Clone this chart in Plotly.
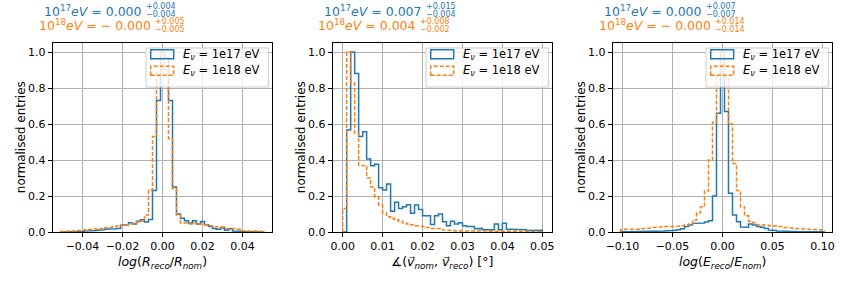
import numpy as np
import plotly.graph_objects as go

BLUE = "#1f77b4"
ORANGE = "#ff7f0e"

# ---------------- data ----------------
# panel 1: log(R_reco/R_nom), bin centres -0.05 .. 0.05 (step 0.002)
r_centres = np.linspace(-0.05, 0.05, 51)
r_1e17 = [0, 0, 0, 0.001, 0.002, 0.003, 0.005, 0.005, 0.008, 0.01, 0.012, 0.015, 0.015,
          0.018, 0.02, 0.038, 0.04, 0.052, 0.045, 0.06, 0.068, 0.055, 0.07, 0.23, 0.73,
          1.0, 0.97, 0.73, 0.25, 0.1, 0.076, 0.063, 0.05, 0.062, 0.045, 0.058, 0.04, 0.03,
          0.02, 0.015, 0.022, 0.01, 0.018, 0.005, 0.008, 0.004, 0.003, 0.002, 0.001, 0, 0]
r_1e18 = [0.003, 0.004, 0.005, 0.006, 0.008, 0.01, 0.012, 0.014, 0.016, 0.018, 0.02, 0.023,
          0.026, 0.03, 0.033, 0.036, 0.04, 0.045, 0.05, 0.055, 0.06, 0.094, 0.233, 0.53,
          0.88, 1.0, 0.9, 0.52, 0.24, 0.095, 0.05, 0.05, 0.045, 0.05, 0.045, 0.042, 0.04,
          0.035, 0.03, 0.03, 0.028, 0.02, 0.02, 0.018, 0.015, 0.007, 0.006, 0.005, 0.005,
          0.004, 0.004]

# panel 2: angle between directions, bin edges 0 .. 0.05 (step 0.001)
a_edges = np.linspace(0.0, 0.05, 51)
a_1e17 = [0, 0.567, 1.0, 0.88, 0.53, 0.557, 0.405, 0.368, 0.376, 0.246, 0.233, 0.267,
          0.115, 0.165, 0.13, 0.14, 0.152, 0.104, 0.15, 0.125, 0.09, 0.09, 0.042, 0.09,
          0.1, 0.057, 0.035, 0.06, 0.045, 0.052, 0.035, 0.03, 0.03, 0.018, 0.02, 0.012,
          0.012, 0.012, 0.044, 0.012, 0.048, 0.015, 0.012, 0.015, 0.012, 0.012, 0.008,
          0.012, 0.012, 0.01]
a_1e18 = [0.13, 1.0, 0.83, 0.55, 0.37, 0.37, 0.30, 0.25, 0.196, 0.15, 0.105, 0.085, 0.075,
          0.068, 0.06, 0.05, 0.045, 0.04, 0.035, 0.032, 0.03, 0.025, 0.02, 0.018, 0.02,
          0.012, 0.01, 0.008, 0.006, 0.006, 0.005, 0.005, 0.006, 0.004, 0.005, 0.004,
          0.004, 0.005, 0.004, 0.004, 0.003, 0.004, 0.004, 0.003, 0.004, 0.003, 0.003,
          0.003, 0.002, 0.003]

# panel 3: log(E_reco/E_nom), bin centres -0.1 .. 0.1 (step 0.004)
e_centres = np.linspace(-0.1, 0.1, 51)
e_1e17 = [0.001, 0.001, 0.001, 0.001, 0.001, 0.001, 0.002, 0.002, 0.003, 0.004, 0.005,
          0.006, 0.008, 0.01, 0.012, 0.018, 0.03, 0.039, 0.048, 0.052, 0.05, 0.055, 0.063,
          0.2, 0.66, 1.0, 0.67, 0.215, 0.094, 0.057, 0.028, 0.026, 0.045, 0.039, 0.031,
          0.026, 0.02, 0.011, 0.008, 0.006, 0.005, 0.004, 0.003, 0.002, 0.002, 0.001,
          0.001, 0.001, 0.001, 0.001, 0.001]
e_1e18 = [0.012, 0.015, 0.015, 0.013, 0.015, 0.018, 0.02, 0.022, 0.025, 0.028, 0.028, 0.03,
          0.03, 0.03, 0.032, 0.035, 0.04, 0.045, 0.065, 0.105, 0.14, 0.228, 0.4, 0.61,
          0.87, 1.0, 0.86, 0.6, 0.38, 0.23, 0.14, 0.09, 0.06, 0.052, 0.042, 0.04, 0.038,
          0.035, 0.033, 0.03, 0.03, 0.025, 0.022, 0.02, 0.02, 0.018, 0.016, 0.015, 0.014,
          0.012, 0.012]

x_ticks_r = [-0.04, -0.02, 0.0, 0.02, 0.04]
x_ticks_a = [0.0, 0.01, 0.02, 0.03, 0.04, 0.05]
x_ticks_e = [-0.10, -0.05, 0.0, 0.05, 0.10]
y_ticks = [0.0, 0.2, 0.4, 0.6, 0.8, 1.0]

legend_labels = ["<i>E</i><sub><i>ν</i></sub> = 1e17 eV", "<i>E</i><sub><i>ν</i></sub> = 1e18 eV"]
stats_1e17 = [("0.000", "+0.004", "−0.004"), ("0.007", "+0.015", "−0.004"), ("0.000", "+0.007", "−0.007")]
stats_1e18 = [("− 0.000", "+0.005", "−0.005"), ("0.004", "+0.008", "−0.002"), ("− 0.000", "+0.014", "−0.014")]
x_titles = [
    "<i>log</i>(<i>R</i><sub><i>reco</i></sub>/<i>R</i><sub><i>nom</i></sub>)",
    "∡(<i>v⃗</i><sub><i>nom</i></sub>, <i>v⃗</i><sub><i>reco</i></sub>) [°]",
    "<i>log</i>(<i>E</i><sub><i>reco</i></sub>/<i>E</i><sub><i>nom</i></sub>)",
]


# ---------------- helpers ----------------
def edges_from_centres(c):
    c = np.asarray(c, dtype=float)
    w = c[1] - c[0]
    return np.concatenate([c - w / 2, [c[-1] + w / 2]])


def step_xy(edges, values):
    xs, ys = [edges[0]], [0.0]
    for i, v in enumerate(values):
        xs += [edges[i], edges[i + 1]]
        ys += [v, v]
    xs.append(edges[-1])
    ys.append(0.0)
    return xs, ys


W, H = 847, 283
SPINE_L = [52.7, 332.7, 612.7]
AX_W = 219.6
AX_TOP, AX_BOT = 43.0, 232.0


def px(x):
    return x / W


def py(y):
    return 1 - y / H


panels = [
    (edges_from_centres(r_centres), r_1e17, r_1e18, [-0.0549, 0.0549], x_ticks_r, ".2f"),
    (a_edges, a_1e17, a_1e18, [-0.0025, 0.0525], x_ticks_a, ".2f"),
    (edges_from_centres(e_centres), e_1e17, e_1e18, [-0.1098, 0.1098], x_ticks_e, ".2f"),
]

fig = go.Figure()
shapes = []
annotations = []
FONT = "DejaVu Sans"

for p, (edges, v17, v18, xr, xt, fmt) in enumerate(panels):
    sfx = "" if p == 0 else str(p + 1)
    xa, ya = "x" + sfx, "y" + sfx
    x0 = SPINE_L[p]
    for vals, col, dash in [(v17, BLUE, "solid"), (v18, ORANGE, "4px,2px")]:
        xs, ys = step_xy(edges, vals)
        fig.add_trace(go.Scatter(x=xs, y=ys, mode="lines", xaxis=xa, yaxis=ya,
                                 line=dict(color=col, width=1.5, dash=dash),
                                 showlegend=False, hoverinfo="skip"))
    axis_common = dict(showline=True, mirror=True, linecolor="black", linewidth=1,
                       ticks="outside", ticklen=4, tickwidth=1, tickcolor="black",
                       showgrid=True, gridcolor="#b0b0b0", gridwidth=0.8, zeroline=False,
                       automargin=False,
                       tickfont=dict(family=FONT, size=11, color="black"))
    fig.layout["xaxis" + sfx] = dict(domain=[px(x0), px(x0 + AX_W)], anchor=ya, range=xr,
                                     tickvals=xt, tickformat=fmt, **axis_common)
    fig.layout["yaxis" + sfx] = dict(domain=[py(AX_BOT), py(AX_TOP)], anchor=xa,
                                     range=[0, 1.05], tickvals=y_ticks, tickformat=".1f",
                                     **axis_common)
    # axis titles
    annotations.append(dict(xref="paper", yref="paper", x=px(x0 + AX_W / 2), y=py(262),
                            text=x_titles[p], showarrow=False, xanchor="center", yanchor="middle",
                            borderpad=0, font=dict(family=FONT, size=12.5, color="black")))
    annotations.append(dict(xref="paper", yref="paper", x=px(x0 - 32), y=py((AX_TOP + AX_BOT) / 2),
                            text="normalised entries", showarrow=False, textangle=-90,
                            xanchor="center", yanchor="middle", borderpad=0,
                            font=dict(family=FONT, size=12, color="black")))
    # stats texts above the panel
    for (stat, col, yc, sup_off) in [(stats_1e17[p], BLUE, 10.5, 91.3),
                                     (stats_1e18[p], ORANGE, 25.5, 100.0 if "−" in stats_1e18[p][0] else 85.6)]:
        e_txt = "10<sup>17</sup><i>eV</i>" if col == BLUE else "10<sup>18</sup><i>eV</i>"
        annotations.append(dict(xref="paper", yref="paper", x=px(x0 + sup_off - 1), y=py(yc),
                                text=f"{e_txt} = {stat[0]}", showarrow=False,
                                xanchor="right", yanchor="middle", borderpad=0,
                                font=dict(family=FONT, size=12.5, color=col)))
        annotations.append(dict(xref="paper", yref="paper", x=px(x0 + sup_off + 1), y=py(yc - 4),
                                text=stat[1], showarrow=False, xanchor="left", yanchor="middle",
                                borderpad=0, font=dict(family=FONT, size=8, color=col)))
        annotations.append(dict(xref="paper", yref="paper", x=px(x0 + sup_off + 1), y=py(yc + 3.5),
                                text=stat[2], showarrow=False, xanchor="left", yanchor="middle",
                                borderpad=0, font=dict(family=FONT, size=8, color=col)))
    # legend box (manual)
    lx0, lx1, ly0, ly1 = x0 + 93.3, x0 + AX_W - 4, AX_TOP + 5, AX_TOP + 44
    shapes.append(dict(type="rect", xref="paper", yref="paper", x0=px(lx0), x1=px(lx1),
                       y0=py(ly1), y1=py(ly0), line=dict(color="#cccccc", width=1),
                       fillcolor="rgba(255,255,255,0.8)", layer="above"))
    for j, (col, dash) in enumerate([(BLUE, "solid"), (ORANGE, "4px,2px")]):
        hy = AX_TOP + 11.3 + j * 16.5
        shapes.append(dict(type="rect", xref="paper", yref="paper", x0=px(x0 + 98), x1=px(x0 + 121),
                           y0=py(hy + 4.5), y1=py(hy - 4.5),
                           line=dict(color=col, width=1.5, dash=dash),
                           fillcolor="rgba(0,0,0,0)", layer="above"))
        annotations.append(dict(xref="paper", yref="paper", x=px(x0 + 129), y=py(hy),
                                text=legend_labels[j], showarrow=False, xanchor="left",
                                yanchor="middle", borderpad=0,
                                font=dict(family=FONT, size=11.5, color="black")))

fig.update_layout(width=W, height=H, autosize=False,
                  margin=dict(l=0, r=0, t=0, b=0, pad=0, autoexpand=False),
                  paper_bgcolor="white", plot_bgcolor="white", showlegend=False,
                  shapes=shapes, annotations=annotations)

fig.write_html("out.html", config={"displayModeBar": False},
               post_script="document.body.style.margin='0px';document.body.style.padding='0px';")
